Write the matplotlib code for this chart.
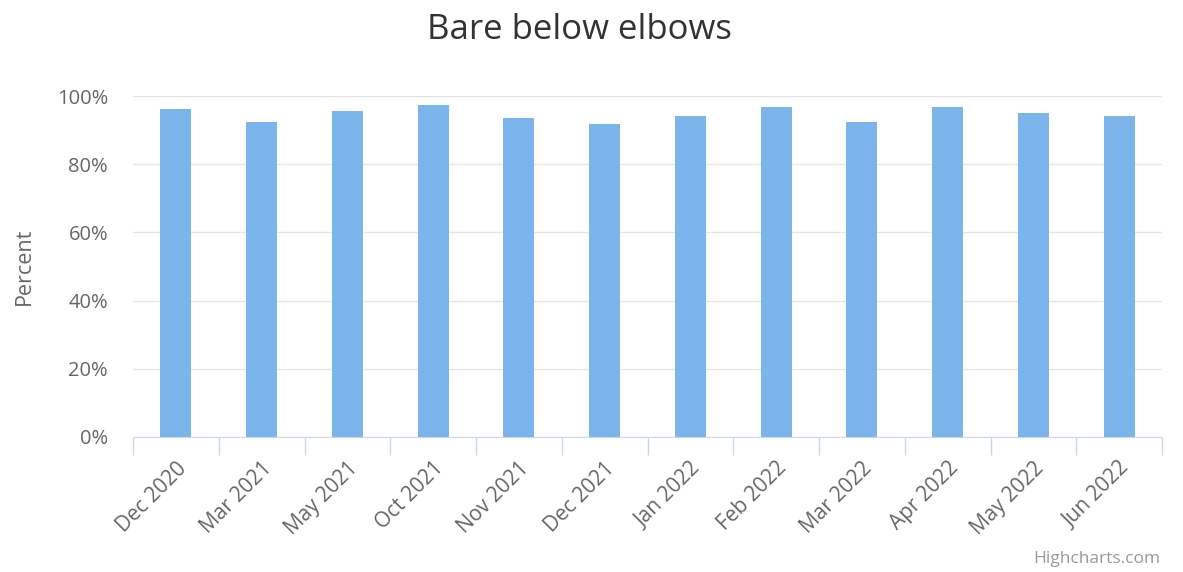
import numpy as np
import matplotlib.pyplot as plt
from matplotlib.ticker import FuncFormatter

# data
months = ['Dec 2020', 'Mar 2021', 'May 2021', 'Oct 2021', 'Nov 2021', 'Dec 2021',
          'Jan 2022', 'Feb 2022', 'Mar 2022', 'Apr 2022', 'May 2022', 'Jun 2022']
percent = [96.3, 92.4, 95.7, 97.5, 93.5, 91.8, 94.0, 96.9, 92.4, 96.9, 95.1, 94.0]

plt.rcParams['font.family'] = ['Open Sans', 'DejaVu Sans']

fig = plt.figure(figsize=(11.83, 5.72), dpi=100)
ax = fig.add_axes([133/1183, 1-437/572, (1162-133)/1183, (437-96)/572])

x = np.arange(len(months))
ax.bar(x, percent, width=0.36, color='#7cb5ec', zorder=3)

ax.set_xlim(-0.5, len(months)-0.5)
ax.set_ylim(0, 100)
ax.set_yticks(range(0, 101, 20))
ax.yaxis.set_major_formatter(FuncFormatter(lambda v, p: '%d%%' % v))
ax.grid(axis='y', color='#e6e6e6', linewidth=1, zorder=0)
ax.tick_params(axis='y', length=0, pad=18, labelsize=14.5, labelcolor='#666666')

ax.set_xticks(x)
ax.set_xticklabels(months, rotation=45, ha='right', rotation_mode='anchor')
ax.tick_params(axis='x', which='major', length=0, pad=15, labelsize=15, labelcolor='#666666')
ax.set_xticks(np.arange(-0.5, len(months)), minor=True)
ax.tick_params(axis='x', which='minor', length=13, color='#ccd6eb', width=1)

for s in ['top', 'right', 'left']:
    ax.spines[s].set_visible(False)
ax.spines['bottom'].set_color('#ccd6eb')

ax.set_ylabel('Percent', color='#666666', fontsize=15.5, labelpad=16)
fig.text(579/1183, 1-30/572, 'Bare below elbows', ha='center', va='center',
         fontsize=25, color='#333333')
fig.text(1160/1183, 1-559/572, 'Highcharts.com', ha='right', va='center',
         fontsize=12.5, color='#999999')

fig.savefig('out.png', dpi=100)
